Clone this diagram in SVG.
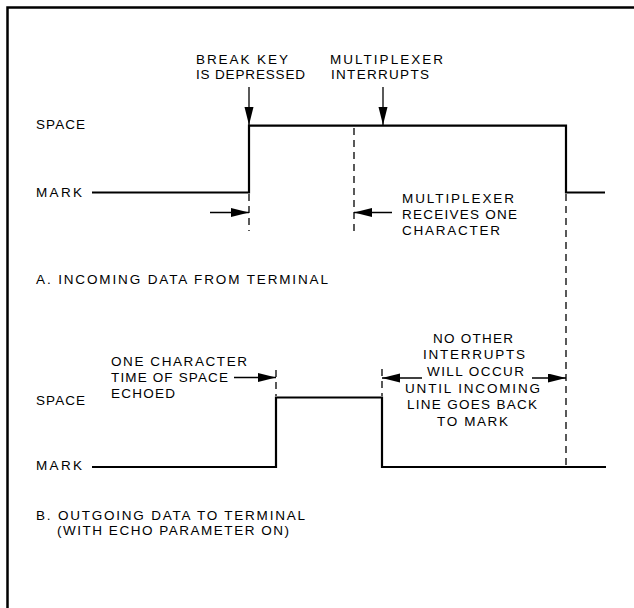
<svg xmlns="http://www.w3.org/2000/svg" width="634" height="608" viewBox="0 0 634 608">
<defs>
<marker id="ah" markerUnits="userSpaceOnUse" markerWidth="20" markerHeight="10" refX="18" refY="4.5" orient="auto">
<path d="M0,0 L18,4.5 L0,9 z" fill="#000"/>
</marker>
<style>
text{font-family:"Liberation Sans",Arial,sans-serif;font-size:13.5px;fill:#000}
.sig{fill:none;stroke:#000;stroke-width:2.2}
.dash{fill:none;stroke:#000;stroke-width:1.3;stroke-dasharray:7 5}
.arr{fill:none;stroke:#000;stroke-width:1.3;marker-end:url(#ah)}
.frame{fill:none;stroke:#000;stroke-width:2.5}
</style>
</defs>
<rect width="634" height="608" fill="#fff"/>
<path class="frame" d="M7.5,608 V7.5 H634"/>

<g id="connectors">
<path class="sig" d="M92,192.5 H249 V125.7 H566 V192.5 H605"/>
<path class="sig" d="M92,467 H276 V397.5 H382 V467 H606"/>
<path class="dash" d="M249,194 V231"/>
<path class="dash" d="M354,128 V231"/>
<path class="dash" d="M566,194 V466"/>
<path class="dash" d="M276,370 V396"/>
<path class="dash" d="M382,369 V396"/>
<line class="arr" x1="249" y1="87" x2="249" y2="125"/>
<line class="arr" x1="383" y1="87" x2="383" y2="125"/>
<line class="arr" x1="210" y1="212.5" x2="249" y2="212.5"/>
<line class="arr" x1="392" y1="212.5" x2="354" y2="212.5"/>
<line class="arr" x1="234" y1="377.5" x2="276" y2="377.5"/>
<line class="arr" x1="422" y1="378" x2="382" y2="378"/>
<line class="arr" x1="532" y1="378" x2="566" y2="378"/>
</g>

<g id="break-key">
<text x="196" y="64" textLength="92" lengthAdjust="spacing">BREAK KEY</text>
<text x="196" y="79" textLength="109" lengthAdjust="spacing">IS DEPRESSED</text>
</g>
<g id="mux-interrupts">
<text x="330" y="64" textLength="113" lengthAdjust="spacing">MULTIPLEXER</text>
<text x="331" y="79" textLength="98" lengthAdjust="spacing">INTERRUPTS</text>
</g>
<g id="level-a">
<text x="36" y="128.5" textLength="49" lengthAdjust="spacing">SPACE</text>
<text x="36" y="197" textLength="46" lengthAdjust="spacing">MARK</text>
</g>
<g id="mux-receives">
<text x="402" y="203" textLength="112" lengthAdjust="spacing">MULTIPLEXER</text>
<text x="402" y="219" textLength="115" lengthAdjust="spacing">RECEIVES ONE</text>
<text x="402" y="235" textLength="98" lengthAdjust="spacing">CHARACTER</text>
</g>
<g id="caption-a">
<text x="36" y="284" textLength="292" lengthAdjust="spacing">A. INCOMING DATA FROM TERMINAL</text>
</g>
<g id="no-other">
<text x="433" y="343" textLength="80" lengthAdjust="spacing">NO OTHER</text>
<text x="423" y="359" textLength="102" lengthAdjust="spacing">INTERRUPTS</text>
<text x="427" y="376" textLength="97" lengthAdjust="spacing">WILL OCCUR</text>
<text x="405" y="393" textLength="135" lengthAdjust="spacing">UNTIL INCOMING</text>
<text x="407" y="409" textLength="130" lengthAdjust="spacing">LINE GOES BACK</text>
<text x="437" y="426" textLength="71" lengthAdjust="spacing">TO MARK</text>
</g>
<g id="one-char">
<text x="111" y="366" textLength="136" lengthAdjust="spacing">ONE CHARACTER</text>
<text x="111" y="382" textLength="117" lengthAdjust="spacing">TIME OF SPACE</text>
<text x="111" y="398" textLength="64" lengthAdjust="spacing">ECHOED</text>
</g>
<g id="level-b">
<text x="36" y="405" textLength="49" lengthAdjust="spacing">SPACE</text>
<text x="36" y="470" textLength="46" lengthAdjust="spacing">MARK</text>
</g>
<g id="caption-b">
<text x="36" y="520" textLength="269" lengthAdjust="spacing">B. OUTGOING DATA TO TERMINAL</text>
<text x="57" y="535" textLength="232" lengthAdjust="spacing">(WITH ECHO PARAMETER ON)</text>
</g>
</svg>
